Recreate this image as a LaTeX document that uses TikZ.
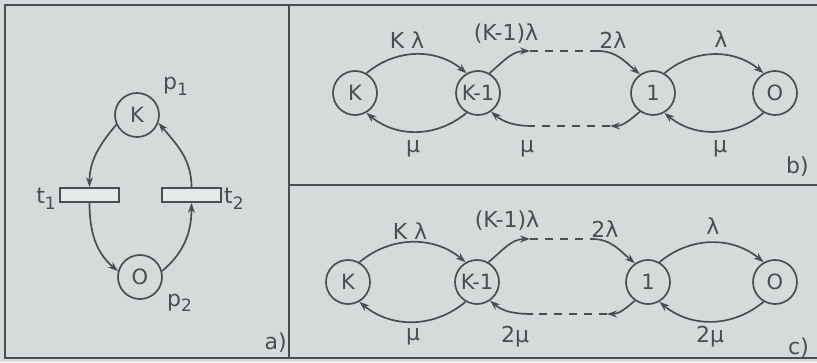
\documentclass[tikz,border=0pt]{standalone}
\usepackage{fontspec}
\setmainfont{DejaVu Sans}
\usetikzlibrary{arrows.meta}
\definecolor{paper}{HTML}{D6DADA}
\definecolor{ink}{HTML}{4A4E52}
\newcommand{\sub}[1]{\raisebox{-0.45ex}{\fontsize{17}{17}\selectfont #1}}
\begin{document}
\begin{tikzpicture}[x=1pt,y=1pt,
  ink/.style={draw=ink,line width=1.7pt},
  state/.style={circle,ink,minimum size=44pt,inner sep=0pt,text=ink,font=\fontsize{21}{21}\selectfont},
  trans/.style={rectangle,ink,fill=paper!60!white,minimum width=59pt,minimum height=14pt,inner sep=0pt},
  lab/.style={text=ink,font=\fontsize{22}{22}\selectfont,inner sep=0pt},
  arc/.style={ink,-{Stealth[length=10pt,width=7pt]}},
  dashline/.style={ink,dash pattern=on 8pt off 7pt}]
\fill[paper] (0,0) rectangle (817,362);
\useasboundingbox (0,0) rectangle (817,362);
% frame
\draw[ink] (817,357) -- (5,357) -- (5,4) -- (817,4);
\draw[ink] (289,4) -- (289,357);
\draw[ink] (289,177) -- (817,177);

% ---------- panel a ----------
\node[state] (aK) at (137,247) {K};
\node[state] (aO) at (140,85) {O};
\node[trans] (t1) at (89.5,167) {};
\node[trans] (t2) at (191.5,167) {};
\node[lab,anchor=base east] (lt1) at (56,158) {t\sub{1}};
\node[lab,anchor=base west] (lt2) at (224,158) {t\sub{2}};
\node[lab,anchor=base west] (lp1) at (163,272) {p\sub{1}};
\node[lab,anchor=base west] (lp2) at (167,56) {p\sub{2}};
\node[lab,anchor=base east] (la) at (287,13) {a)};
\draw[arc] (aK.205) to[out=230,in=90] (t1.north);
\draw[arc] (t1.south) to[out=-90,in=140] (aO.165);
\draw[arc] (aO.15) to[out=40,in=-90] (t2.south);
\draw[arc] (t2.north) to[out=90,in=-50] (aK.-20);

% ---------- panel b ----------
\node[state] (bK) at (355,269) {K};
\node[state] (bK1) at (478,269) {K-1};
\node[state] (b1) at (653,269) {1};
\node[state] (b0) at (775,269) {O};
\coordinate (bu1) at (530,311);
\coordinate (bu2) at (598,311);
\coordinate (bl1) at (610,236);
\coordinate (bl2) at (533,236);
\draw[arc] (bK.60) to[bend left=40] (bK1.120);
\draw[arc] (bK1.240) to[bend left=40] (bK.300);
\draw[arc] (bK1.60) to[out=40,in=180] (bu1);
\draw[dashline] (bu1) -- (bu2);
\draw[arc] (bu2) to[out=0,in=140] (b1.125);
\draw[arc] (b1.235) to[out=220,in=0] (bl1);
\draw[dashline] (bl1) -- (bl2);
\draw[arc] (bl2) to[out=180,in=-40] (bK1.305);
\draw[arc] (b1.60) to[bend left=40] (b0.120);
\draw[arc] (b0.240) to[bend left=40] (b1.300);
\node[lab] (bl_a) at (407,322) {K λ};
\node[lab] (bl_b) at (506,328) {(K-1)λ};
\node[lab] (bl_c) at (613,322) {2λ};
\node[lab] (bl_d) at (721,323) {λ};
\node[lab] (bm_a) at (413,213) {μ};
\node[lab] (bm_b) at (527,213) {μ};
\node[lab] (bm_c) at (720,213) {μ};
\node[lab,anchor=base west] (lb) at (786,188) {b)};

% ---------- panel c ----------
\node[state] (cK) at (348,80) {K};
\node[state] (cK1) at (477,80) {K-1};
\node[state] (c1) at (648,80) {1};
\node[state] (c0) at (775,80) {O};
\coordinate (cu1) at (530,123);
\coordinate (cu2) at (592,123);
\coordinate (cl1) at (607,48);
\coordinate (cl2) at (533,48);
\draw[arc] (cK.60) to[bend left=40] (cK1.120);
\draw[arc] (cK1.240) to[bend left=40] (cK.300);
\draw[arc] (cK1.60) to[out=40,in=180] (cu1);
\draw[dashline] (cu1) -- (cu2);
\draw[arc] (cu2) to[out=0,in=140] (c1.125);
\draw[arc] (c1.235) to[out=220,in=0] (cl1);
\draw[dashline] (cl1) -- (cl2);
\draw[arc] (cl2) to[out=180,in=-40] (cK1.305);
\draw[arc] (c1.60) to[bend left=40] (c0.120);
\draw[arc] (c0.240) to[bend left=40] (c1.300);
\node[lab] (cl_a) at (410,131) {K λ};
\node[lab] (cl_b) at (507,141) {(K-1)λ};
\node[lab] (cl_c) at (605,133) {2λ};
\node[lab] (cl_d) at (713,136) {λ};
\node[lab] (cm_a) at (413,25) {μ};
\node[lab] (cm_b) at (515,25) {2μ};
\node[lab] (cm_c) at (710,25) {2μ};
\node[lab,anchor=base west] (lc) at (788,8) {c)};
\end{tikzpicture}
\end{document}
